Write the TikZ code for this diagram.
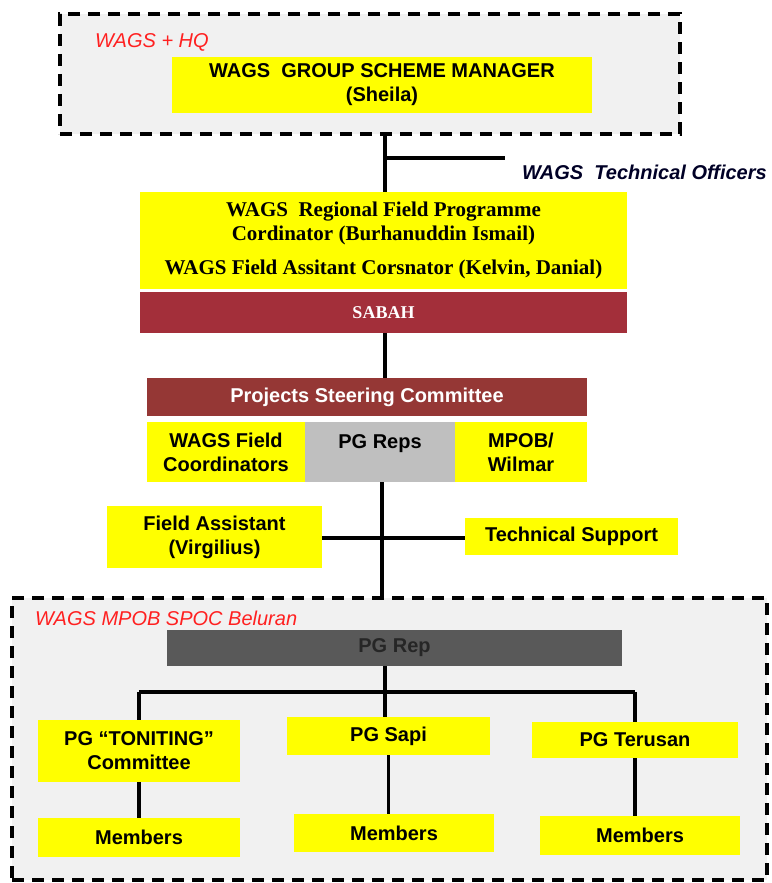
\documentclass[tikz,border=0pt]{standalone}
\usepackage{fontspec}
\setmainfont{Liberation Sans}
\newfontfamily\rfcfont{Liberation Serif}
\usetikzlibrary{positioning}
\definecolor{boxyellow}{HTML}{FFFF00}
\definecolor{sabahred}{HTML}{A32F3A}
\definecolor{pscred}{HTML}{953735}
\definecolor{repgray}{HTML}{595959}
\definecolor{pggray}{HTML}{BFBFBF}
\definecolor{framefill}{HTML}{F1F1F1}
\definecolor{lblred}{HTML}{FF2020}

\tikzset{
  frame/.style={draw=black, fill=framefill, dash pattern=on 12pt off 8pt, line width=3.4pt, inner sep=0pt},
  ybox/.style={fill=boxyellow, inner sep=0pt, align=center, font=\fontsize{20}{24}\selectfont\bfseries},
  redbox/.style={inner sep=0pt, align=center, text=white},
  lbl/.style={anchor=west, inner sep=0pt, text=lblred, font=\fontsize{20}{24}\selectfont\itshape},
  link/.style={line width=3.2pt},
}

\begin{document}
\begin{tikzpicture}[x=1pt, y=-1pt]
\useasboundingbox (0,0) rectangle (771,883);

\node [frame, minimum width=620, minimum height=120] (hq) at (370,74) {};
\node [lbl] (hqlbl) at (95,42) {WAGS + HQ};
\node [ybox, minimum width=420, minimum height=56] (mgr) at (382,85) {WAGS\ \ GROUP SCHEME MANAGER\\(Sheila)};

\node [ybox, minimum width=487, minimum height=97, font=\fontsize{21}{24}\selectfont\rfcfont\bfseries] (rfc) at (383.5,240.5)
  {WAGS\ \ Regional Field Programme\\Cordinator (Burhanuddin Ismail)\\[10pt]WAGS Field Assitant Corsnator (Kelvin, Danial)};
\node [redbox, fill=sabahred, minimum width=487, minimum height=41, font=\fontsize{18}{22}\selectfont\rfcfont\bfseries] (sabah) at (383.5,312.5) {SABAH};

\coordinate (tojunc) at (385,158);
\coordinate (techend) at (505,158);
\node [anchor=west, inner sep=0pt, font=\fontsize{20}{24}\selectfont\bfseries\itshape, text=black!85!blue] (techoff) at (522,172) {WAGS\ \ Technical Officers};

\node [redbox, fill=pscred, minimum width=440, minimum height=38, font=\fontsize{20}{24}\selectfont\bfseries] (psc) at (367,397) {Projects Steering Committee};
\node [ybox, minimum width=158, minimum height=60] (wfc) at (226,452) {WAGS Field\\Coordinators};
\node [ybox, fill=pggray, minimum width=150, minimum height=60, text depth=30pt, text height=22pt] (pgr) at (380,452) {PG Reps};
\node [ybox, minimum width=132, minimum height=60] (mpob) at (521,452) {MPOB/\\Wilmar};

\node [ybox, minimum width=215, minimum height=62] (fa) at (214.5,537) {Field Assistant\\(Virgilius)};
\node [ybox, minimum width=213, minimum height=37] (ts) at (571.5,536.5) {Technical Support};

\node [frame, minimum width=755, minimum height=282] (spoc) at (389.5,739) {};
\node [lbl] (spoclbl) at (35,618) {WAGS MPOB SPOC Beluran};
\node [ybox, fill=repgray, text=black!85, minimum width=455, minimum height=36] (rep) at (394.5,648) {PG Rep};

\node [ybox, minimum width=202, minimum height=62] (ton) at (139,751) {PG “TONITING”\\Committee};
\node [ybox, minimum width=203, minimum height=38] (sapi) at (388.5,736) {PG Sapi};
\node [ybox, minimum width=206, minimum height=36] (ter) at (635,740) {PG Terusan};

\node [ybox, minimum width=202, minimum height=39] (m1) at (139,837.5) {Members};
\node [ybox, minimum width=200, minimum height=38] (m2) at (394,833) {Members};
\node [ybox, minimum width=200, minimum height=39] (m3) at (640,835.5) {Members};

\coordinate (cross) at (382,538);
\coordinate (bar) at (385,692);

\draw [link] (tojunc |- hq.south) -- (tojunc |- rfc.north);
\draw [link] (tojunc) -- (techend);
\draw [link] (tojunc |- sabah.south) -- (tojunc |- psc.north);
\draw [link] (cross |- pgr.south) -- (cross |- spoc.north);
\draw [link] (fa.east |- cross) -- (ts.west |- cross);
\draw [link] (bar |- rep.south) -- (bar);
\draw [link] (ton.north |- bar) -- (ter.north |- bar);
\draw [link] (ton.north |- bar) -- (ton.north);
\draw [link] (bar) -- (bar |- sapi.north);
\draw [link] (ter.north |- bar) -- (ter.north);
\draw [link] (ton.south) -- (m1.north);
\draw [link] (sapi.south) -- (sapi.south |- m2.north);
\draw [link] (ter.south) -- (ter.south |- m3.north);
\end{tikzpicture}
\end{document}
